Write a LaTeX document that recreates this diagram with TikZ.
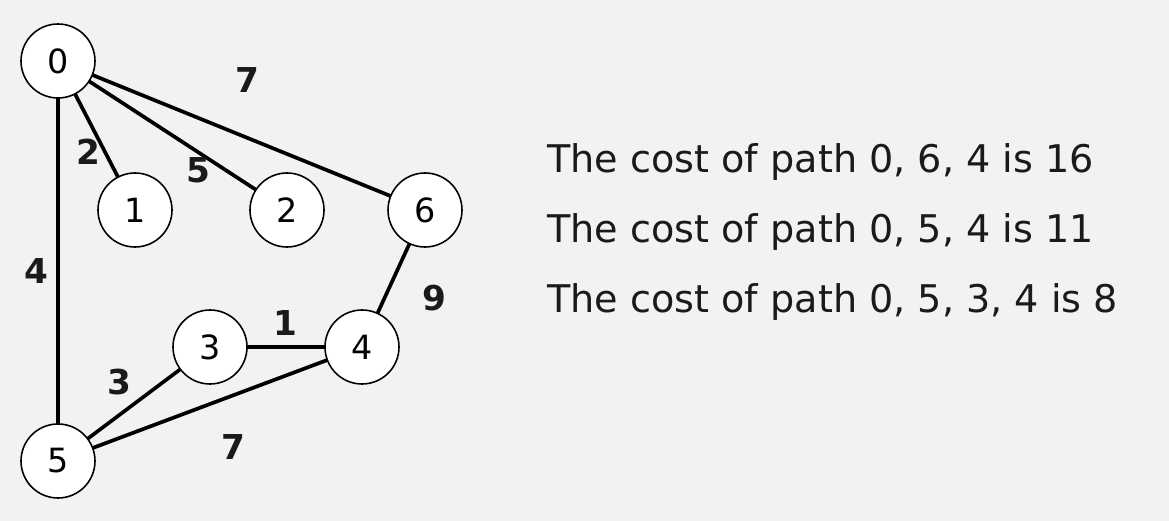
\documentclass[tikz,border=0pt]{standalone}
\usepackage{fontspec}
\setmainfont{DejaVu Sans}
\usetikzlibrary{positioning}
\definecolor{gbg}{HTML}{F2F2F2}
\definecolor{gink}{HTML}{1A1A1A}
\tikzset{
  vtx/.style={circle, draw=black, line width=0.9pt, fill=white, minimum size=14.8mm, inner sep=0pt, font=\fontsize{19}{20}\selectfont},
  edg/.style={line width=2.1pt, color=black},
  wt/.style={font=\fontsize{19.5}{21}\selectfont\bfseries, text=gink, inner sep=0pt},
  msg/.style={anchor=base west, font=\fontsize{21.7}{24}\selectfont, text=gink, inner sep=0pt},
}
\begin{document}
\begin{tikzpicture}
    \fill[gbg] (0,0) rectangle (23.38,10.42);
    \useasboundingbox (0,0) rectangle (23.38,10.42);
    % vertices
    \foreach \nm/\x/\y in {0/1.16/9.20, 1/2.70/6.22, 2/5.74/6.22, 6/8.50/6.22, 3/4.20/3.48, 4/7.24/3.48, 5/1.16/1.20}
      \coordinate (p\nm) at (\x,\y);
    % edges with weights
    \foreach \a/\b/\w/\lx/\ly in {0/6/7/4.94/8.82, 0/1/2/1.76/7.38, 0/2/5/3.96/7.02, 0/5/4/0.72/5.00, 6/4/9/8.68/4.46, 3/4/1/5.70/3.96, 5/3/3/2.38/2.78, 5/4/7/4.66/1.48}
    {
      \draw[edg] (p\a) -- (p\b);
      \node[wt] (w\a\b) at (\lx,\ly) {\w};
    }
    \foreach \nm in {0,1,2,6,3,4,5}
      \node[vtx] (v\nm) at (p\nm) {\nm};
    \node[msg] (c1) at (10.94,6.96) {The cost of path 0, 6, 4 is 16};
    \node[msg] (c2) at (10.94,5.56) {The cost of path 0, 5, 4 is 11};
    \node[msg] (c3) at (10.94,4.16) {The cost of path 0, 5, 3, 4 is 8};
\end{tikzpicture}
\end{document}
